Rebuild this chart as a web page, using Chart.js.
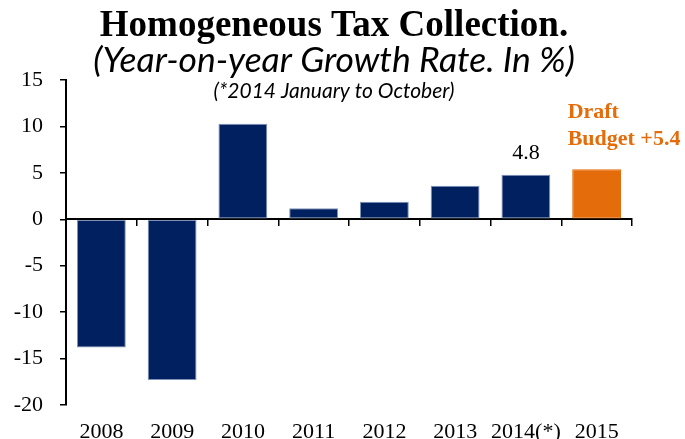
<!DOCTYPE html>
<html>
<head>
<meta charset="utf-8">
<script src="https://cdn.jsdelivr.net/npm/chart.js@4"></script>
<style>
  body { margin: 0; background: #fff; }
  #wrap { width: 685px; height: 439px; position: relative; }
</style>
</head>
<body>
<div id="wrap"><canvas id="taxChart"></canvas></div>
<script>
// data
const years = ['2008', '2009', '2010', '2011', '2012', '2013', '2014(*)', '2015'];
const growth = [-13.8, -17.3, 10.3, 1.2, 1.9, 3.6, 4.8, 5.4];
const yTicks = [-20, -15, -10, -5, 0, 5, 10, 15];

const titleText = 'Homogeneous Tax Collection.';
const subtitleText = '(Year-on-year Growth Rate. In %)';
const noteText = '(*2014 January to October)';
const budgetLines = ['Draft', 'Budget +5.4'];

const NAVY = '#002060';
const ORANGE = '#E46C0A';
const SERIF = '"Liberation Serif", "DejaVu Serif", serif';
const ITALIC = 'Lato, "Liberation Sans", sans-serif';

const budgetIndex = years.length - 1;
const labelIndex = years.indexOf('2014(*)');

// titles + bar annotations
const textPlugin = {
    id: 'texts',
    afterDraw(chart) {
        const c = chart.ctx;
        c.save();
        c.fillStyle = '#000';
        c.textAlign = 'center';
        c.textBaseline = 'alphabetic';
        c.font = 'bold 37px ' + SERIF;
        c.fillText(titleText, 334, 36);
        c.font = 'italic 35.5px ' + ITALIC;
        c.fillText(subtitleText, 334, 72);
        c.font = 'italic 21px ' + ITALIC;
        c.fillText(noteText, 334, 98);

        const bars = chart.getDatasetMeta(0).data;
        const b = bars[labelIndex];
        c.font = '22px ' + SERIF;
        c.fillText(growth[labelIndex].toFixed(1), b.x, b.y - 16);

        const ob = bars[budgetIndex];
        c.fillStyle = ORANGE;
        c.textAlign = 'left';
        c.font = 'bold 22px ' + SERIF;
        c.fillText(budgetLines[0], ob.x - 29, 118);
        c.fillText(budgetLines[1], ob.x - 29, 145);
        c.restore();
    }
};

const ctx = document.getElementById('taxChart').getContext('2d');
new Chart(ctx, {
    type: 'bar',
    data: {
        labels: years,
        datasets: [{
            data: growth,
            backgroundColor: c => c.dataIndex === budgetIndex ? ORANGE : NAVY,
            borderColor: c => c.dataIndex === budgetIndex ? ORANGE : '#7f93b8',
            borderWidth: 1,
            borderSkipped: false,
            categoryPercentage: 1,
            barPercentage: 0.69
        }]
    },
    options: {
        responsive: true,
        maintainAspectRatio: false,
        animation: false,
        layout: { padding: { top: 80, right: 53, left: 0, bottom: 0 } },
        plugins: {
            legend: { display: false },
            tooltip: { enabled: false }
        },
        scales: {
            x: {
                position: 'bottom',
                offset: true,
                grid: { display: false, drawTicks: false },
                border: { display: false },
                ticks: {
                    color: '#000',
                    font: { family: SERIF, size: 22 },
                    padding: 14,
                    maxRotation: 0,
                    autoSkip: false
                },
                afterFit: s => { s.height = 34; }
            },
            x0: {
                type: 'category',
                labels: years,
                position: { y: 0 },
                offset: true,
                grid: {
                    offset: true,
                    drawOnChartArea: false,
                    tickLength: 6,
                    color: '#000',
                    lineWidth: 1.5
                },
                border: { color: '#000', width: 2 },
                ticks: { display: false }
            },
            y: {
                min: -20,
                max: 15,
                afterBuildTicks: s => { s.ticks = yTicks.map(v => ({ value: v })); },
                grid: {
                    drawOnChartArea: false,
                    tickLength: 6,
                    color: '#000',
                    lineWidth: 1.5
                },
                border: { color: '#000', width: 2 },
                ticks: {
                    color: '#000',
                    font: { family: SERIF, size: 22 },
                    padding: 17
                },
                afterFit: s => { s.width = 66; }
            }
        }
    },
    plugins: [textPlugin]
});
</script>
</body>
</html>
